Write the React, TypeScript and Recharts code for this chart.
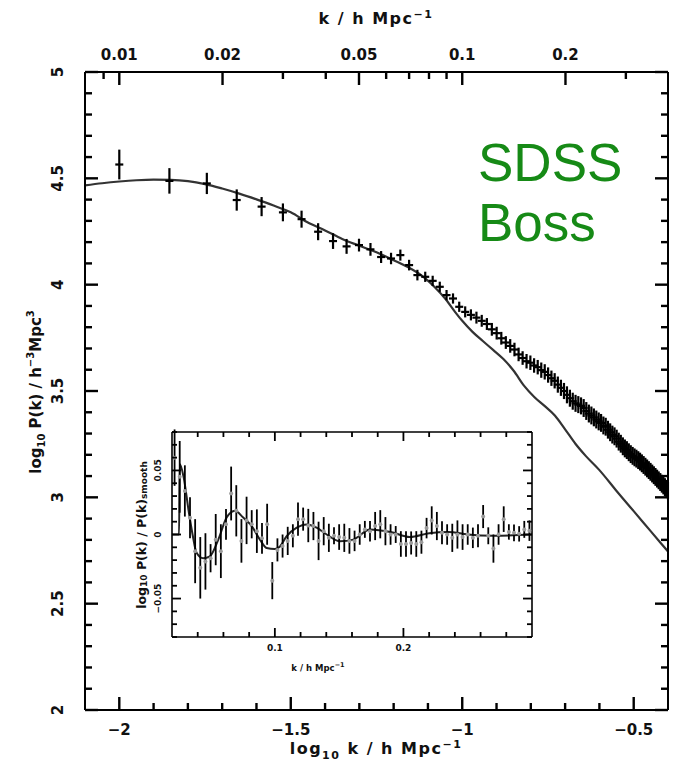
import React from 'react';
import { ComposedChart, Line, Scatter, XAxis, YAxis, ErrorBar } from 'recharts';

const FONT = '"DejaVu Sans", sans-serif';

// ---------- main panel data ----------
const K_MAIN = [
  0.010, 0.014, 0.018, 0.022, 0.026, 0.030, 0.034, 0.038, 0.042, 0.046,
  0.050, 0.054, 0.058, 0.062, 0.066, 0.070, 0.074, 0.078, 0.082, 0.086,
  0.090, 0.094, 0.098, 0.102, 0.106, 0.110, 0.114, 0.118, 0.122, 0.126,
  0.130, 0.134, 0.138, 0.142, 0.146, 0.150, 0.154, 0.158, 0.162, 0.166,
  0.170, 0.174, 0.178, 0.182, 0.186, 0.190, 0.194, 0.198, 0.202, 0.206,
  0.210, 0.214, 0.218, 0.222, 0.226, 0.230, 0.234, 0.238, 0.242, 0.246,
  0.250, 0.254, 0.258, 0.262, 0.266, 0.270, 0.274, 0.278, 0.282, 0.286,
  0.290, 0.294, 0.298, 0.302, 0.306, 0.310, 0.314, 0.318, 0.322, 0.326,
  0.330, 0.334, 0.338, 0.342, 0.346, 0.350, 0.354, 0.358, 0.362, 0.366,
  0.370, 0.374, 0.378, 0.382, 0.386, 0.390, 0.394, 0.398,
];

const P_MAIN = [
  4.565, 4.488, 4.476, 4.398, 4.367, 4.340, 4.308, 4.249, 4.205, 4.180,
  4.186, 4.166, 4.130, 4.123, 4.139, 4.092, 4.045, 4.037, 4.018, 3.990,
  3.951, 3.935, 3.896, 3.872, 3.858, 3.845, 3.830, 3.815, 3.790, 3.772,
  3.748, 3.728, 3.712, 3.695, 3.672, 3.655, 3.640, 3.633, 3.620, 3.612,
  3.598, 3.590, 3.575, 3.560, 3.548, 3.530, 3.515, 3.500, 3.482, 3.466,
  3.452, 3.442, 3.436, 3.430, 3.420, 3.406, 3.394, 3.385, 3.376, 3.366,
  3.357, 3.350, 3.338, 3.332, 3.318, 3.306, 3.295, 3.287, 3.276, 3.262,
  3.252, 3.240, 3.230, 3.222, 3.212, 3.203, 3.195, 3.188, 3.182, 3.175,
  3.168, 3.160, 3.152, 3.144, 3.136, 3.128, 3.120, 3.112, 3.104, 3.096,
  3.088, 3.080, 3.072, 3.064, 3.056, 3.048, 3.040, 3.032,
];

const ERR_MAIN = [
  0.070, 0.060, 0.050, 0.050, 0.045, 0.042, 0.040, 0.040, 0.037, 0.035,
  0.030, 0.030, 0.028, 0.027, 0.026, 0.025, 0.025, 0.024, 0.024, 0.024,
  0.024, 0.024, 0.024, 0.026, 0.026, 0.028, 0.028, 0.028, 0.030, 0.030,
  0.030, 0.030, 0.032, 0.032, 0.032, 0.032, 0.034, 0.034, 0.034, 0.034,
  0.036, 0.036, 0.036, 0.036, 0.036, 0.038, 0.038, 0.038, 0.040, 0.040,
  0.040, 0.040, 0.040, 0.040, 0.042, 0.042, 0.042, 0.042, 0.042, 0.042,
  0.042, 0.042, 0.042, 0.042, 0.042, 0.042, 0.042, 0.042, 0.042, 0.042,
  0.042, 0.042, 0.042, 0.042, 0.042, 0.042, 0.042, 0.042, 0.042, 0.042,
  0.042, 0.042, 0.042, 0.042, 0.042, 0.042, 0.042, 0.042, 0.042, 0.042,
  0.042, 0.042, 0.042, 0.042, 0.042, 0.042, 0.042, 0.042,
];

const MODEL_LOGK = [
  -2.1, -2.05, -2.0, -1.95, -1.9, -1.85, -1.8, -1.75, -1.7, -1.65,
  -1.6, -1.55, -1.5, -1.45, -1.4, -1.35, -1.3, -1.25, -1.2, -1.15,
  -1.12, -1.08, -1.05, -1.02, -1.0, -0.97, -0.94, -0.91, -0.88, -0.85,
  -0.82, -0.79, -0.76, -0.73, -0.7, -0.67, -0.64, -0.6, -0.55, -0.5,
  -0.45, -0.4,
];
const MODEL_P = [
  4.467, 4.477, 4.485, 4.491, 4.494, 4.493, 4.487, 4.473, 4.452, 4.428,
  4.401, 4.372, 4.340, 4.292, 4.255, 4.215, 4.183, 4.152, 4.115, 4.075,
  4.045, 3.988, 3.935, 3.870, 3.830, 3.778, 3.735, 3.693, 3.650, 3.595,
  3.525, 3.472, 3.430, 3.385, 3.320, 3.252, 3.195, 3.128, 3.030, 2.935,
  2.840, 2.745,
];

// ---------- inset data ----------
const K_INSET = [
  0.022, 0.026, 0.030, 0.034, 0.038, 0.042, 0.046, 0.050, 0.054, 0.058,
  0.062, 0.066, 0.070, 0.074, 0.078, 0.082, 0.086, 0.090, 0.094, 0.098,
  0.102, 0.106, 0.110, 0.114, 0.118, 0.122, 0.126, 0.130, 0.134, 0.138,
  0.142, 0.146, 0.150, 0.154, 0.158, 0.162, 0.166, 0.170, 0.174, 0.178,
  0.182, 0.186, 0.190, 0.194, 0.198, 0.202, 0.206, 0.210, 0.214, 0.218,
  0.222, 0.226, 0.230, 0.234, 0.238, 0.242, 0.246, 0.250, 0.254, 0.258,
  0.262, 0.266, 0.270, 0.274, 0.278, 0.282, 0.286, 0.290, 0.294, 0.298,
];
const RATIO_INSET = [
  0.060, 0.045, 0.034, 0.013, -0.013, -0.026, -0.021, -0.0185, -0.004, -0.013,
  0.008, 0.032, 0.0185, -0.005, 0.011, 0.008, 0.0026, -0.003, 0.008, -0.036,
  -0.012, -0.009, -0.005, -0.001, 0.012, 0.012, 0.007, 0.0066, -0.005, 0.0026,
  -0.0026, -0.001, -0.002, -0.0026, -0.005, -0.005, 0.0, 0.004, 0.0026, 0.0066,
  0.008, 0.0026, 0.0, 0.0, -0.0074, -0.0074, -0.0066, -0.0074, -0.006, 0.005,
  0.011, 0.0066, 0.0013, 0.0, -0.0026, 0.0, -0.002, 0.0, -0.0026, -0.001,
  0.014, -0.001, -0.011, 0.0, 0.012, 0.002, 0.0013, 0.0005, 0.004, 0.003,
];
const ERR_INSET = [
  0.022, 0.028, 0.020, 0.016, 0.025, 0.024, 0.022, 0.011, 0.020, 0.021,
  0.012, 0.021, 0.020, 0.017, 0.0185, 0.011, 0.017, 0.012, 0.016, 0.0145,
  0.009, 0.009, 0.011, 0.009, 0.013, 0.009, 0.013, 0.011, 0.015, 0.011,
  0.011, 0.0066, 0.010, 0.011, 0.010, 0.008, 0.008, 0.0066, 0.008, 0.011,
  0.011, 0.011, 0.008, 0.0066, 0.010, 0.010, 0.009, 0.010, 0.009, 0.008,
  0.011, 0.011, 0.009, 0.008, 0.011, 0.011, 0.010, 0.008, 0.008, 0.009,
  0.009, 0.0066, 0.011, 0.008, 0.010, 0.006, 0.0066, 0.006, 0.0066, 0.008,
];
const MODEL_INSET_K = [
  0.020, 0.0255, 0.026, 0.029, 0.033, 0.036, 0.039, 0.0443, 0.0495, 0.056,
  0.0625, 0.069, 0.0754, 0.082, 0.0884, 0.0936, 0.100, 0.104, 0.1092, 0.117,
  0.1247, 0.1325, 0.1403, 0.1506, 0.161, 0.174, 0.190, 0.205, 0.220, 0.235,
  0.250, 0.270, 0.300,
];
const MODEL_INSET_R = [
  0.0, 0.0, 0.055, 0.045, 0.018, 0.0, -0.014, -0.0185, -0.017, -0.004,
  0.0132, 0.0185, 0.0132, 0.0066, -0.004, -0.0106, -0.0114, -0.0093, -0.0013, 0.0053,
  0.0079, 0.0053, 0.0, -0.0053, -0.004, 0.004, 0.002, -0.002, 0.001, 0.002,
  0.0, -0.001, 0.0,
];

// ---------- ticks ----------
const BOTTOM_TICKS = [-2.0, -1.9, -1.8, -1.7, -1.6, -1.5, -1.4, -1.3, -1.2, -1.1, -1.0, -0.9, -0.8, -0.7, -0.6, -0.5];
const TOP_TICK_K = [0.009, 0.01, 0.02, 0.03, 0.04, 0.05, 0.06, 0.07, 0.08, 0.09, 0.1, 0.2, 0.3];
const TOP_MAJOR_K = [0.01, 0.02, 0.05, 0.1, 0.2];
const TOP_MAJOR_LABELS = ['0.01', '0.02', '0.05', '0.1', '0.2'];
const LEFT_TICKS = [
  2.0, 2.1, 2.2, 2.3, 2.4, 2.5, 2.6, 2.7, 2.8, 2.9, 3.0, 3.1, 3.2, 3.3, 3.4, 3.5,
  3.6, 3.7, 3.8, 3.9, 4.0, 4.1, 4.2, 4.3, 4.4, 4.5, 4.6, 4.7, 4.8, 4.9, 5.0,
];
const INSET_X_TICKS = [0.04, 0.06, 0.08, 0.1, 0.12, 0.14, 0.16, 0.18, 0.2, 0.22, 0.24, 0.26, 0.28];
const INSET_Y_TICKS = [
  -0.08, -0.07, -0.06, -0.05, -0.04, -0.03, -0.02, -0.01, 0, 0.01, 0.02, 0.03, 0.04, 0.05, 0.06, 0.07, 0.08,
];

const mainPoints = K_MAIN.map((k, i) => ({ x: Math.log10(k), y: P_MAIN[i], e: ERR_MAIN[i] }));
const mainModel = MODEL_LOGK.map((x, i) => ({ x, y: MODEL_P[i] }));
const insetPoints = K_INSET.map((k, i) => ({ x: k, y: RATIO_INSET[i], e: ERR_INSET[i] }));
const insetModel = MODEL_INSET_K.map((x, i) => ({ x, y: MODEL_INSET_R[i] }));
const topTicks = TOP_TICK_K.map((k) => Math.log10(k));

const near = (a: number, b: number) => Math.abs(a - b) < 1e-6;
const isHalf = (v: number) => near(v * 2, Math.round(v * 2));
const fmtMinus = (s: string) => s.replace('-', '\u2212');

type TickOpts = {
  side: 'bottom' | 'top' | 'left' | 'right';
  major: (v: number) => boolean;
  label?: (v: number) => string | null;
  minorLen: number;
  majorLen: number;
  fontSize?: number;
  offset?: number;
  width?: number;
};

// tickSize is 0, so (x, y) handed to the tick is the point on the axis line;
// tick marks point inward, as in the original plot.
const makeTick = (o: TickOpts) => (props: any) => {
  const x = Number(props.x);
  const y = Number(props.y);
  const v = props.payload.value;
  const mj = o.major(v);
  const len = mj ? o.majorLen : o.minorLen;
  const lab = mj && o.label ? o.label(v) : null;
  const sw = o.width ?? 2.4;
  const textProps = {
    fontFamily: FONT,
    fontWeight: 'bold' as const,
    fontSize: o.fontSize ?? 15,
    fill: '#111',
  };
  let d = '';
  let text = null;
  if (o.side === 'bottom') {
    d = `M${x},${y}L${x},${y - len}`;
    if (lab) text = <text x={x} y={y + (o.offset ?? 0)} textAnchor="middle" {...textProps}>{lab}</text>;
  } else if (o.side === 'top') {
    d = `M${x},${y}L${x},${y + len}`;
    if (lab) text = <text x={x} y={y - (o.offset ?? 0)} textAnchor="middle" {...textProps}>{lab}</text>;
  } else if (o.side === 'left') {
    d = `M${x},${y}L${x + len},${y}`;
    if (lab) {
      const tx = x - (o.offset ?? 0);
      text = (
        <text x={tx} y={y} textAnchor="middle" dominantBaseline="central" transform={`rotate(-90 ${tx} ${y})`} {...textProps}>
          {lab}
        </text>
      );
    }
  } else {
    d = `M${x},${y}L${x - len},${y}`;
  }
  return (
    <g>
      <path d={d} stroke="#000" strokeWidth={sw} fill="none" />
      {text}
    </g>
  );
};

const MAIN_MINOR = 7;
const MAIN_MAJOR = 13;
const INSET_MINOR = 5;
const INSET_MAJOR = 9;

const bottomTick = makeTick({
  side: 'bottom', major: isHalf, label: (v) => fmtMinus(String(Math.round(v * 10) / 10)),
  minorLen: MAIN_MINOR, majorLen: MAIN_MAJOR, offset: 25,
});
const topTick = makeTick({
  side: 'top',
  major: (v) => TOP_MAJOR_K.some((k) => near(Math.log10(k), v)),
  label: (v) => {
    const i = TOP_MAJOR_K.findIndex((k) => near(Math.log10(k), v));
    return i >= 0 ? TOP_MAJOR_LABELS[i] : null;
  },
  minorLen: MAIN_MINOR, majorLen: MAIN_MAJOR, offset: 12,
});
const leftTick = makeTick({
  side: 'left', major: isHalf, label: (v) => String(Math.round(v * 10) / 10),
  minorLen: MAIN_MINOR, majorLen: MAIN_MAJOR, offset: 27,
});
const rightTick = makeTick({ side: 'right', major: isHalf, minorLen: MAIN_MINOR, majorLen: MAIN_MAJOR });

const insetXMajor = (v: number) => near(v, 0.1) || near(v, 0.2);
const insetYMajor = (v: number) => near(v, 0) || near(v, 0.05) || near(v, -0.05);
const insetBottomTick = makeTick({
  side: 'bottom', major: insetXMajor, label: (v) => String(Math.round(v * 10) / 10),
  minorLen: INSET_MINOR, majorLen: INSET_MAJOR, offset: 14, fontSize: 9, width: 1.8,
});
const insetTopTick = makeTick({ side: 'top', major: insetXMajor, minorLen: INSET_MINOR, majorLen: INSET_MAJOR, width: 1.8 });
const insetLeftTick = makeTick({
  side: 'left', major: insetYMajor,
  label: (v) => (near(v, 0) ? '0' : fmtMinus(v.toFixed(2))),
  minorLen: INSET_MINOR, majorLen: INSET_MAJOR, offset: 14, fontSize: 9, width: 1.8,
});
const insetRightTick = makeTick({ side: 'right', major: insetYMajor, minorLen: INSET_MINOR, majorLen: INSET_MAJOR, width: 1.8 });

const DashShape = (props: any) => {
  const { cx, cy } = props;
  if (cx == null || cy == null) return null;
  return <line x1={cx - 4} x2={cx + 4} y1={cy} y2={cy} stroke="#000" strokeWidth={2.2} />;
};
const DotShape = (props: any) => {
  const { cx, cy } = props;
  if (cx == null || cy == null) return null;
  return <circle cx={cx} cy={cy} r={2} fill="#9a9a9a" />;
};

const axisLine = { stroke: '#000', strokeWidth: 2 };
const insetAxisLine = { stroke: '#000', strokeWidth: 1.6 };

export default function App() {
  return (
    <div style={{ position: 'absolute', left: 0, top: 0, width: 677, height: 770, background: '#fff' }}>
      <ComposedChart width={677} height={770} margin={{ top: 0, right: 0, bottom: 0, left: 0 }}>
        <XAxis
          xAxisId="b" type="number" dataKey="x" domain={[-2.1, -0.4]} allowDataOverflow
          orientation="bottom" height={60} ticks={BOTTOM_TICKS} interval={0}
          tickSize={0} tickMargin={0} tickLine={false} axisLine={axisLine} tick={bottomTick}
        />
        <XAxis
          xAxisId="t" type="number" dataKey="x" domain={[-2.1, -0.4]} allowDataOverflow
          orientation="top" height={72} ticks={topTicks} interval={0}
          tickSize={0} tickMargin={0} tickLine={false} axisLine={axisLine} tick={topTick}
        />
        <YAxis
          yAxisId="l" type="number" dataKey="y" domain={[2, 5]} allowDataOverflow
          orientation="left" width={85} ticks={LEFT_TICKS} interval={0}
          tickSize={0} tickMargin={0} tickLine={false} axisLine={axisLine} tick={leftTick}
        />
        <YAxis
          yAxisId="r" type="number" dataKey="y" domain={[2, 5]} allowDataOverflow
          orientation="right" width={9} ticks={LEFT_TICKS} interval={0}
          tickSize={0} tickMargin={0} tickLine={false} axisLine={axisLine} tick={rightTick}
        />
        <Line
          data={mainModel} xAxisId="t" yAxisId="r" dataKey="y" type="monotone"
          stroke="#333" strokeWidth={2.2} dot={false} isAnimationActive={false}
        />
        <Scatter
          data={mainPoints} xAxisId="b" yAxisId="l" dataKey="y" shape={DashShape}
          isAnimationActive={false}
        >
          <ErrorBar dataKey="e" direction="y" width={0} stroke="#000" strokeWidth={2.2} isAnimationActive={false} />
        </Scatter>
      </ComposedChart>

      <div style={{ position: 'absolute', left: 125, top: 425, width: 415, height: 255 }}>
        <ComposedChart width={415} height={255} margin={{ top: 0, right: 0, bottom: 0, left: 0 }}>
          <XAxis
            xAxisId="b" type="number" dataKey="x" domain={[0.02, 0.3]} allowDataOverflow
            orientation="bottom" height={43} ticks={INSET_X_TICKS} interval={0}
            tickSize={0} tickMargin={0} tickLine={false} axisLine={insetAxisLine} tick={insetBottomTick}
          />
          <XAxis
            xAxisId="t" type="number" dataKey="x" domain={[0.02, 0.3]} allowDataOverflow
            orientation="top" height={7} ticks={INSET_X_TICKS} interval={0}
            tickSize={0} tickMargin={0} tickLine={false} axisLine={insetAxisLine} tick={insetTopTick}
          />
          <YAxis
            yAxisId="l" type="number" dataKey="y" domain={[-0.08, 0.08]} allowDataOverflow
            orientation="left" width={47} ticks={INSET_Y_TICKS} interval={0}
            tickSize={0} tickMargin={0} tickLine={false} axisLine={insetAxisLine} tick={insetLeftTick}
          />
          <YAxis
            yAxisId="r" type="number" dataKey="y" domain={[-0.08, 0.08]} allowDataOverflow
            orientation="right" width={8} ticks={INSET_Y_TICKS} interval={0}
            tickSize={0} tickMargin={0} tickLine={false} axisLine={insetAxisLine} tick={insetRightTick}
          />
          <Line
            data={insetModel} xAxisId="t" yAxisId="r" dataKey="y" type="monotone"
            stroke="#222" strokeWidth={2} dot={false} isAnimationActive={false}
          />
          <Scatter
            data={insetPoints} xAxisId="b" yAxisId="l" dataKey="y" shape={DotShape}
            isAnimationActive={false}
          >
            <ErrorBar dataKey="e" direction="y" width={0} stroke="#000" strokeWidth={1.8} isAnimationActive={false} />
          </Scatter>
        </ComposedChart>
      </div>

      <svg
        width={677} height={770}
        style={{ position: 'absolute', left: 0, top: 0, pointerEvents: 'none' }}
      >
        <g fontFamily={FONT} fontWeight="bold" fill="#111">
          <text x={376} y={24} textAnchor="middle" fontSize={16} letterSpacing={1.5}>
            k / h Mpc<tspan dy={-6} fontSize={11}>{'\u22121'}</tspan>
          </text>
          <text x={376} y={754} textAnchor="middle" fontSize={16} letterSpacing={1.5}>
            log<tspan dy={5} fontSize={11}>10</tspan>
            <tspan dy={-5}> k / h Mpc</tspan>
            <tspan dy={-6} fontSize={11}>{'\u22121'}</tspan>
          </text>
          <text x={36} y={392} textAnchor="middle" dominantBaseline="central" fontSize={15} transform="rotate(-90 36 392)">
            log<tspan dy={5} fontSize={10}>10</tspan>
            <tspan dy={-5}> P(k) / h</tspan>
            <tspan dy={-6} fontSize={10}>{'\u22123'}</tspan>
            <tspan dy={6}>Mpc</tspan>
            <tspan dy={-6} fontSize={10}>3</tspan>
          </text>
          <text x={318} y={671} textAnchor="middle" fontSize={8.5}>
            k / h Mpc<tspan dy={-4} fontSize={6.5}>{'\u22121'}</tspan>
          </text>
          <text x={141} y={535} textAnchor="middle" dominantBaseline="central" fontSize={12.5} transform="rotate(-90 141 535)">
            log<tspan dy={3} fontSize={9}>10</tspan>
            <tspan dy={-3}> P(k) / P(k)</tspan>
            <tspan dy={3} fontSize={9}>smooth</tspan>
          </text>
        </g>
        <g fontFamily='"Liberation Sans", Arial, sans-serif' fill="#168a16" fontSize={53}>
          <text x={478} y={181}>SDSS</text>
          <text x={478} y={241}>Boss</text>
        </g>
      </svg>
    </div>
  );
}
